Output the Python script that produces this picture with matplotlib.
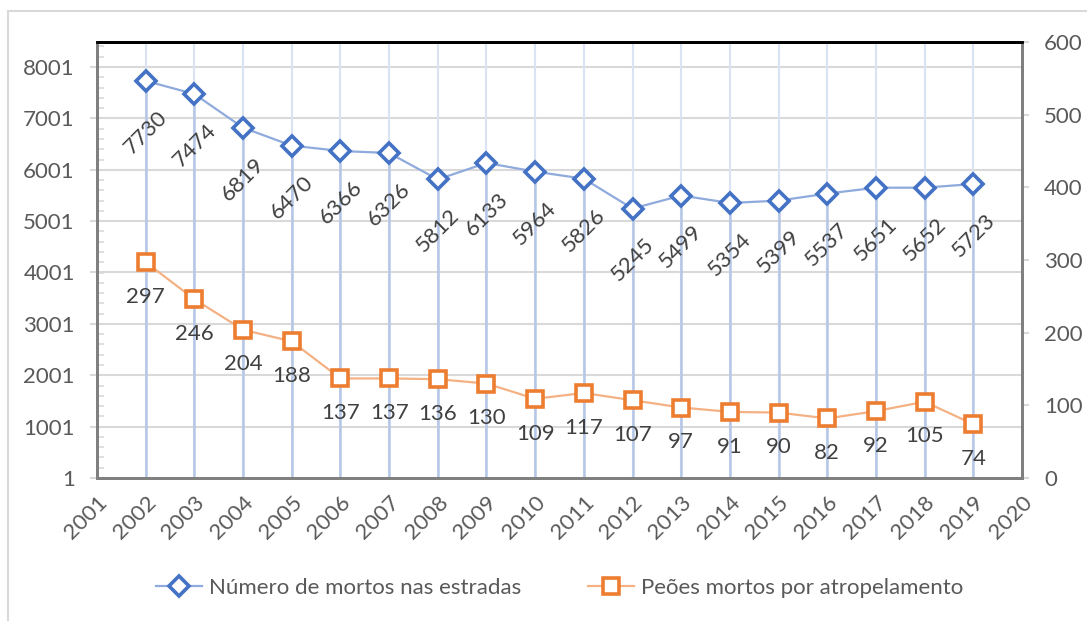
import matplotlib
matplotlib.use("Agg")
import matplotlib.pyplot as plt
from matplotlib.patches import Rectangle
from matplotlib.ticker import MultipleLocator

plt.rcParams['font.family'] = ['Lato', 'DejaVu Sans']

anos = list(range(2002, 2020))
mortos_estradas = [7730, 7474, 6819, 6470, 6366, 6326, 5812, 6133, 5964,
                   5826, 5245, 5499, 5354, 5399, 5537, 5651, 5652, 5723]
peoes_mortos = [297, 246, 204, 188, 137, 137, 136, 130, 109,
                117, 107, 97, 91, 90, 82, 92, 105, 74]
ticks_esq = list(range(1, 8002, 1000))
ticks_dir = list(range(0, 601, 100))
ticks_x = list(range(2001, 2021))
nome_azul = "Número de mortos nas estradas"
nome_laranja = "Peões mortos por atropelamento"

azul = "#4472c4"
azul_claro = "#8faadc"
laranja = "#ed7d31"
laranja_claro = "#f4b183"
cinza_txt = "#595959"
fs = 16

fig = plt.figure(figsize=(10.87, 6.21), dpi=100)
ax = fig.add_axes([97 / 1087, 1 - 478 / 621, (1022 - 97) / 1087, (478 - 42) / 621])
ax2 = ax.twinx()

# moldura do grafico
fig.patches.append(Rectangle((8 / 1087, -0.1), 1.2, 1 - 11 / 621 + 0.1,
                             transform=fig.transFigure, fill=False,
                             edgecolor="#d9d9d9", lw=1.5))

ax.set_xlim(2001, 2020)
ax.set_ylim(1, 8487)
ax2.set_ylim(0, 600)

# grelha
for y in ticks_esq[1:]:
    ax.axhline(y, color="#d9d9d9", lw=1.5, zorder=0)
for x in ticks_x[1:-1]:
    ax.axvline(x, color="#dae3f3", lw=1.5, zorder=0)
# linhas de queda
ax.vlines(anos, 1, mortos_estradas, color="#b4c7e7", lw=1.8, zorder=1)

ax.plot(anos, mortos_estradas, color=azul_claro, lw=1.6, marker="D", ms=10,
        mfc="white", mec=azul, mew=2.6, zorder=3, label=nome_azul)
ax2.plot(anos, peoes_mortos, color=laranja_claro, lw=1.6, marker="s", ms=11,
         mfc="white", mec=laranja, mew=2.6, zorder=3, label=nome_laranja)

for a, v in zip(anos, mortos_estradas):
    ax.annotate(str(v), (a, v), xytext=(0, -37), textcoords="offset points",
                ha="center", va="center", rotation=45, rotation_mode="anchor",
                fontsize=fs, color="#404040")
for a, v in zip(anos, peoes_mortos):
    ax2.annotate(str(v), (a, v), xytext=(0, -25), textcoords="offset points",
                 ha="center", va="center", fontsize=fs, color="#404040")

ax.set_xticks(ticks_x)
ax.set_xticklabels([str(t) for t in ticks_x], rotation=45, ha="right",
                   rotation_mode="anchor", fontsize=fs, color=cinza_txt)
ax.tick_params(axis="x", length=0, pad=10)

ax.set_yticks(ticks_esq)
ax.set_yticklabels([str(t) for t in ticks_esq], fontsize=fs, color=cinza_txt)
ax.yaxis.set_minor_locator(MultipleLocator(200))
ax.tick_params(axis="y", which="major", length=5, color="#d9d9d9", width=1.5, pad=11)
ax.tick_params(axis="y", which="minor", direction="in", length=5, color="#d9d9d9", width=1.2)

ax2.set_yticks(ticks_dir)
ax2.set_yticklabels([str(t) for t in ticks_dir], fontsize=fs, color=cinza_txt)
ax2.tick_params(axis="y", length=5, color="#d9d9d9", width=1.5, pad=11)

for a in (ax, ax2):
    a.spines["top"].set_color("black")
    a.spines["top"].set_linewidth(2)
    for s in ("left", "right", "bottom"):
        a.spines[s].set_color("#7f7f7f")
        a.spines[s].set_linewidth(2)

h1, l1 = ax.get_legend_handles_labels()
h2, l2 = ax2.get_legend_handles_labels()
fig.legend(h1 + h2, l1 + l2, loc="center", ncol=2, frameon=False,
           bbox_to_anchor=(559.5 / 1087, 1 - 588 / 621), fontsize=fs,
           labelcolor=cinza_txt, handlelength=2.1, handletextpad=0.3,
           columnspacing=3.0)

fig.savefig("out.png", dpi=100)
